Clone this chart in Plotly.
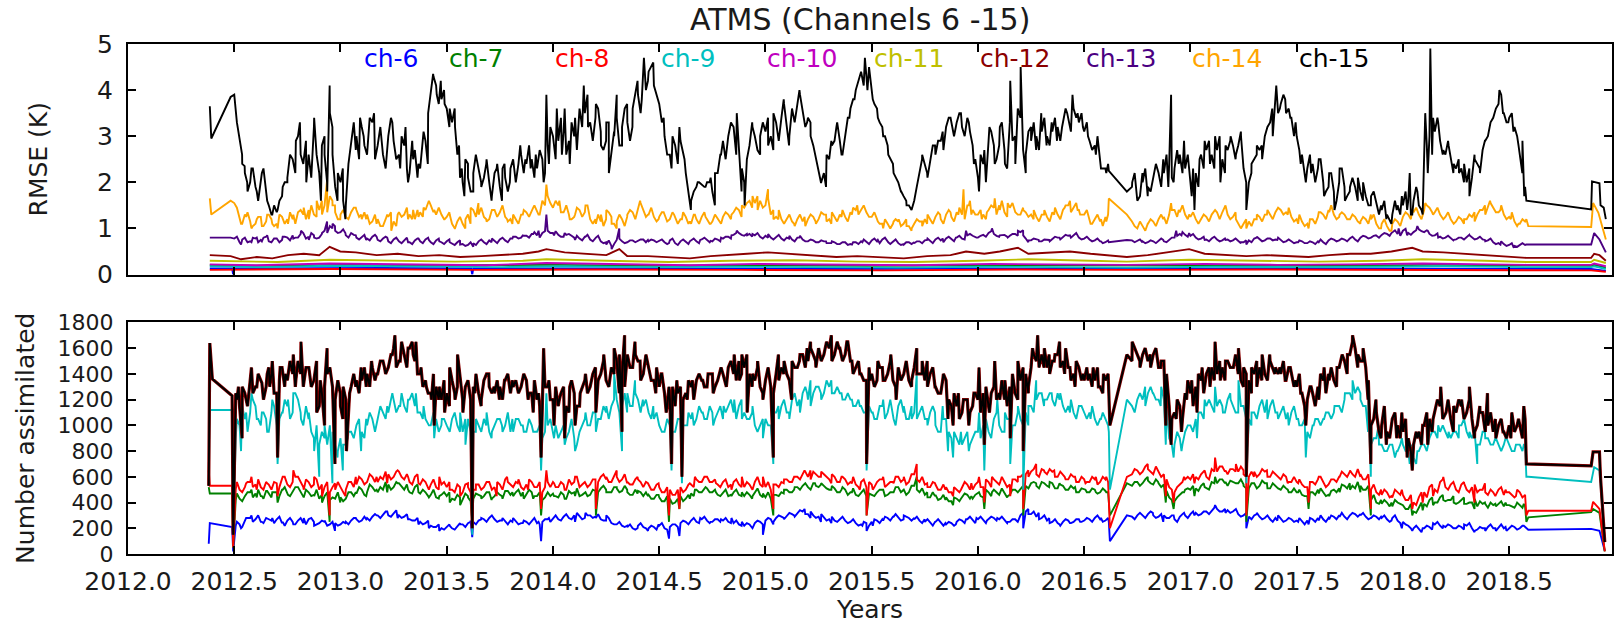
import plotly.graph_objects as go

# ---------------- data ----------------
channels = ["ch-6", "ch-7", "ch-8", "ch-9", "ch-10", "ch-11", "ch-12", "ch-13", "ch-14", "ch-15"]
colors = ["#0000FF", "#008000", "#FF0000", "#00BFBF", "#BF00BF", "#BFBF00", "#8B0000", "#4B0082", "#FFA500", "#000000"]
label_years = [2013.1, 2013.5, 2014.0, 2014.5, 2015.0, 2015.5, 2016.0, 2016.5, 2017.0, 2017.5]
x_ticks = [2012.0, 2012.5, 2013.0, 2013.5, 2014.0, 2014.5, 2015.0, 2015.5, 2016.0, 2016.5, 2017.0, 2017.5, 2018.0, 2018.5]

# Sampling calendar of the dense readings: 13 half-year rows (2012.5 ... 2018.5), 20 samples per row every 0.025 yr;
# the "_b" rows are the readings taken half a step (0.0125 yr) later.
row_starts = [2012.5, 2013.0, 2013.5, 2014.0, 2014.5, 2015.0, 2015.5, 2016.0, 2016.5, 2017.0, 2017.5, 2018.0, 2018.5]
row_step = 0.025
N = None

# ---- RMSE (K), top panel: individual readings (year, value) ----
rmse_ch15 = [(2012.385,3.65),(2012.392,2.95),(2012.483,3.85),(2012.5,3.9),(2012.537,2.6),(2012.549,2.35),(2012.561,2.0),(2012.581,2.3),(2012.606,1.8),(2012.63,2.2),(2012.655,1.6),(2012.679,1.3),(2012.704,1.4),(2012.728,1.9),(2012.75,2.0),(2012.79,2.9),(2012.809,3.3),(2012.839,2.0),(2012.876,3.4),(2012.908,1.6),(2012.925,3.0),(2012.937,2.0),(2012.949,4.1),(2012.962,3.2),(2012.986,1.6),(2013.011,2.3),(2013.023,1.2),(2013.043,2.6),(2013.06,3.2),(2013.072,2.7),(2013.092,3.4),(2013.109,3.0),(2013.158,3.5),(2013.207,2.4),(2013.244,3.3),(2013.281,2.3),(2013.306,3.2),(2013.318,2.0),(2013.342,2.5),(2013.367,2.4),(2013.391,3.1),(2013.411,2.4),(2013.421,3.8),(2013.436,4.35),(2013.453,3.9),(2013.472,4.2),(2013.49,3.7),(2013.514,3.6),(2013.539,3.2),(2013.558,2.8),(2013.571,2.3),(2013.583,1.7),(2013.6,2.4),(2013.625,1.8),(2013.637,2.6),(2013.662,2.0),(2013.686,2.4),(2013.711,1.6),(2013.735,2.3),(2013.76,1.6),(2013.772,2.4),(2013.797,2.0),(2013.821,2.2),(2013.846,2.8),(2013.87,2.5),(2013.895,2.3),(2013.919,2.6),(2013.956,2.0),(2013.969,3.9),(2013.981,2.4),(2014.018,3.6),(2014.042,2.6),(2014.055,3.6),(2014.079,2.4),(2014.104,3.4),(2014.145,4.1),(2014.165,3.2),(2014.202,3.7),(2014.226,2.8),(2014.251,3.3),(2014.263,2.2),(2014.288,3.0),(2014.3,3.9),(2014.325,2.8),(2014.349,3.7),(2014.374,3.2),(2014.398,4.2),(2014.418,3.8),(2014.428,4.7),(2014.447,4.2),(2014.472,4.6),(2014.497,3.8),(2014.521,3.4),(2014.558,2.3),(2014.595,3.2),(2014.619,2.5),(2014.649,1.4),(2014.681,2.0),(2014.718,1.9),(2014.742,2.1),(2014.762,1.5),(2014.791,2.6),(2014.865,3.5),(2014.889,2.3),(2014.902,1.5),(2014.939,3.2),(2014.975,2.6),(2015.012,3.4),(2015.037,2.7),(2015.086,3.8),(2015.111,2.8),(2015.16,4.0),(2015.196,3.3),
 (2015.212,3.3),(2015.249,2.3),(2015.261,2.0),(2015.285,1.9),(2015.31,2.9),(2015.334,3.2),(2015.358,2.6),(2015.395,3.4),(2015.419,3.8),(2015.444,4.3),(2015.468,4.7),(2015.48,4.0),(2015.505,3.8),(2015.529,3.4),(2015.554,3.0),(2015.578,2.6),(2015.603,2.2),(2015.639,1.8),(2015.664,1.5),(2015.688,1.4),(2015.712,1.9),(2015.737,2.5),(2015.761,2.2),(2015.798,2.8),(2015.834,3.1),(2015.871,3.4),(2015.896,3.2),(2015.92,3.5),(2015.957,3.3),(2015.981,2.4),(2016.005,1.8),(2016.03,2.7),(2016.054,3.2),(2016.079,2.4),(2016.103,3.2),(2016.127,2.4),(2016.152,4.2),(2016.176,2.4),(2016.201,4.5),(2016.225,2.2),(2016.25,3.2),(2016.274,2.7),(2016.298,3.5),(2016.323,2.8),(2016.347,3.3),(2016.372,2.9),(2016.396,3.2),(2016.42,3.5),(2016.445,3.9),(2016.469,3.5),(2016.494,3.2),(2016.518,3.0),(2016.555,2.6),(2016.579,2.3),(2016.604,2.2),(2016.616,2.25),(2016.701,1.8),(2016.726,2.0),(2016.75,1.6),(2016.774,2.2),(2016.799,1.7),(2016.835,2.3),(2016.872,2.5),(2016.896,1.9),(2016.909,3.9),(2016.921,2.0),(2016.945,2.4),(2016.97,2.9),(2017.006,1.7),(2017.019,1.4),(2017.043,2.5),(2017.067,2.9),(2017.092,2.4),(2017.116,3.0),(2017.141,2.0),(2017.165,2.8),(2017.189,3.0),(2017.214,2.6),(2017.238,3.0),(2017.263,1.4),(2017.287,2.2),(2017.312,2.6),(2017.336,2.8),(2017.36,3.2),(2017.385,3.6),(2017.404,4.1),(2017.421,3.6),(2017.446,3.8),(2017.47,3.4),(2017.495,3.3),(2017.519,2.4),(2017.543,2.0),(2017.568,2.2),(2017.604,2.5),(2017.629,1.7),(2017.653,2.2),(2017.678,1.4),(2017.702,2.3),(2017.727,1.6),(2017.751,1.9),(2017.788,2.1),(2017.812,1.6),(2017.849,1.5),(2017.873,1.6),(2017.897,1.5),(2017.922,1.2),(2017.946,1.1),(2017.971,1.4),(2017.995,1.7),(2018.02,1.4),(2018.032,2.2),(2018.044,1.3),(2018.068,1.8),(2018.093,1.3),(2018.105,3.5),(2018.117,2.2),(2018.129,4.9),(2018.142,3.4),(2018.166,3.3),(2018.19,2.7),(2018.215,2.8),(2018.239,2.4),(2018.264,2.2),(2018.288,2.4),(2018.313,1.7),(2018.337,2.6),(2018.362,2.3),(2018.386,2.9),(2018.41,3.2),(2018.435,3.6),(2018.454,4.0),(2018.471,3.5),(2018.496,3.3),(2018.52,3.1),(2018.544,2.8),(2018.562,2.2),(2018.571,1.7),(2018.581,1.6),(2018.886,1.41),(2018.89,2.02),(2018.925,1.98),(2018.93,1.5),(2018.945,1.45),(2018.955,1.2)]
rmse_ch15_rows = [
 [N,2.9,2.2,2.0,1.9,2.1,1.7,1.3,1.35,1.7,2.1,2.5,3.0,2.4,2.6,3.2,2.2,2.6,3.5,1.9],
 [2.0,1.5,2.8,3.0,3.2,2.6,3.3,2.8,2.6,3.0,2.9,2.6,2.8,2.2,2.7,2.3,2.9,4.0,4.1,3.8],
 [3.6,3.3,2.6,2.0,2.1,2.2,2.3,2.1,2.0,2.2,1.9,2.1,2.3,2.0,2.6,2.4,2.5,2.3,2.5,2.8],
 [3.0,2.9,3.1,2.9,3.0,3.6,3.5,3.3,3.4,3.1,2.9,2.6,3.4,3.2,3.3,3.6,3.9,4.3,4.4,4.1],
 [3.7,3.0,2.6,2.8,2.9,2.2,1.6,1.9,1.95,2.0,1.8,2.2,2.9,3.0,3.2,2.8,2.0,2.8,3.0,3.0],
 [3.1,3.0,3.3,3.4,3.2,3.6,3.7,3.5,3.4,2.8,2.2,2.2,2.5,2.9,2.9,3.0,3.6,4.0,4.4,4.3],
 [3.9,3.6,3.2,2.8,2.4,2.0,1.7,1.5,1.6,2.2,2.4,2.5,2.6,2.9,3.2,3.3,3.3,3.2,3.4,2.8],
 [2.1,2.4,2.9,2.8,2.8,2.7,3.3,3.0,3.4,2.6,2.9,3.0,3.1,3.0,3.1,3.2,3.3,3.4,3.6,3.3],
 [3.1,2.9,2.8,2.5,2.3,N,N,N,N,1.9,N,2.0,1.9,2.1,2.2,2.2,2.4,2.3,2.6,2.3],
 [2.0,2.2,2.6,2.7,2.6,2.7,2.5,2.7,2.8,2.8,2.3,2.0,2.5,2.7,3.0,3.3,3.8,3.7,3.5,3.4],
 [3.0,2.6,2.3,2.4,2.3,2.0,1.9,1.8,2.0,1.9,1.8,1.9,1.8,1.7,1.7,1.5,1.4,1.3,1.3,1.5],
 [1.5,1.6,1.6,1.5,2.4,3.0,3.1,2.9,2.6,2.5,2.3,2.3,2.0,2.1,2.4,2.7,3.0,3.4,3.7,3.5],
 [3.4,3.2,2.6,1.9,N,N,N,N,N,N,N,N,N,N,N,N,N,N,N,N]]
rmse_ch15_rows_b = [
 [3.3,2.4,1.8,2.3,1.6,2.3,1.5,1.5,1.6,2.0,2.6,2.2,2.6,2.9,2.1,2.6,2.8,1.8,2.6,2.2],
 [1.6,2.4,3.3,2.5,2.8,3.4,2.5,3.2,2.3,3.4,2.5,3.0,2.3,2.9,2.1,3.0,3.5,4.3,3.7,4.0],
 [3.2,3.6,2.1,2.5,1.8,2.6,1.9,2.5,1.7,2.4,2.3,1.8,2.5,2.4,2.2,2.8,2.1,2.7,2.2,3.2],
 [2.5,3.4,2.6,3.3,2.7,3.2,3.9,2.9,3.6,2.7,3.3,3.1,2.8,3.6,2.9,3.9,3.5,4.0,4.5,3.9],
 [3.3,2.6,3.0,2.4,2.6,1.8,1.8,2.0,1.9,2.0,2.2,2.6,2.5,3.3,2.6,1.8,2.5,3.3,2.7,3.3],
 [2.8,3.5,2.9,3.7,3.0,3.3,3.9,3.2,3.0,2.5,2.0,2.6,2.8,3.3,2.6,3.4,3.8,4.2,4.1,4.5],
 [3.7,3.3,3.0,2.5,2.1,1.8,1.6,1.4,1.9,2.6,2.1,2.8,2.9,2.7,3.4,3.0,3.5,3.0,3.1,2.5],
 [2.6,2.0,3.1,2.5,3.3,2.3,2.9,3.6,2.7,3.1,3.3,2.7,3.4,2.8,3.4,2.9,3.6,3.1,3.4,3.5],
 [3.3,2.7,3.0,2.3,2.4,N,N,N,N,2.2,1.7,2.3,1.8,2.4,1.9,2.6,2.1,2.7,2.2,2.6],
 [2.3,1.9,2.3,2.9,2.3,3.0,2.2,2.9,2.5,3.1,2.0,2.4,2.8,2.5,3.2,3.0,3.5,3.9,3.6,3.0],
 [2.7,2.2,2.6,2.0,2.5,1.8,2.2,1.6,2.3,1.7,2.1,1.6,2.0,1.5,1.8,1.3,1.6,1.2,1.6,1.3],
 [1.8,1.3,1.9,1.4,2.8,2.6,3.4,2.6,2.9,2.2,2.5,2.0,2.3,2.5,2.2,2.9,3.3,3.6,3.9,3.3],
 [3.5,3.0,2.9,N,N,N,N,N,N,N,N,N,N,N,N,N,N,N,N,N]]

rmse_ch14 = [(2012.385,1.65),(2012.392,1.3),(2012.483,1.6),(2012.5,1.55),(2012.532,1.1),(2012.556,1.25),(2012.581,1.0),(2012.606,1.2),(2012.63,1.05),(2012.655,1.3),(2012.679,1.1),(2012.704,1.0),(2012.728,1.2),(2012.753,1.1),(2012.778,1.3),(2012.827,1.45),(2012.851,1.2),(2012.888,1.6),(2012.913,1.3),(2012.937,2.05),(2012.962,1.6),(2012.974,1.5),(2012.999,1.2),(2013.023,1.3),(2013.072,1.45),(2013.097,1.3),(2013.121,1.2),(2013.17,1.1),(2013.22,1.3),(2013.239,0.95),(2013.269,1.3),(2013.318,1.2),(2013.342,1.4),(2013.367,1.25),(2013.391,1.45),(2013.416,1.6),(2013.441,1.4),(2013.49,1.2),(2013.514,1.3),(2013.539,1.0),(2013.588,1.2),(2013.612,1.1),(2013.649,1.55),(2013.686,1.2),(2013.711,1.35),(2013.76,1.5),(2013.784,1.2),(2013.809,1.1),(2013.858,1.3),(2013.907,1.45),(2013.932,1.3),(2013.969,1.95),(2014.005,1.5),(2014.03,1.6),(2014.055,1.4),(2014.079,1.2),(2014.104,1.3),(2014.153,1.5),(2014.202,1.1),(2014.226,1.3),(2014.251,1.4),(2014.276,1.1),(2014.3,1.0),(2014.349,1.25),(2014.41,1.6),(2014.447,1.3),(2014.497,1.2),(2014.521,1.35),(2014.57,1.3),(2014.607,1.2),(2014.644,1.15),(2014.668,1.3),(2014.718,1.25),(2014.742,1.1),(2014.791,1.1),(2014.84,1.3),(2014.889,1.5),(2014.939,1.7),(2014.963,1.4),(2015.012,1.85),(2015.037,1.4),(2015.061,1.2),(2015.135,1.1),(2015.184,1.25),(2015.236,1.15),(2015.285,1.3),(2015.31,1.1),(2015.358,1.25),(2015.407,1.3),(2015.432,1.5),(2015.48,1.3),(2015.529,1.15),(2015.554,1.0),(2015.603,1.15),(2015.627,1.2),(2015.664,1.05),(2015.688,1.0),(2015.737,1.15),(2015.761,1.1),(2015.822,1.3),(2015.871,1.35),(2015.908,1.3),(2015.932,1.85),(2015.957,1.5),(2015.969,1.3),(2016.018,1.2),(2016.042,1.35),(2016.079,1.65),(2016.103,1.4),(2016.14,1.55),(2016.176,1.35),(2016.213,1.4),(2016.262,1.2),(2016.311,1.3),(2016.359,1.3),(2016.408,1.45),(2016.433,1.6),(2016.469,1.4),(2016.481,1.3),(2016.53,1.1),(2016.579,1.2),(2016.604,1.15),(2016.616,1.65),(2016.701,1.3),(2016.75,1.0),(2016.799,1.1),(2016.872,1.2),(2016.909,1.55),(2016.945,1.4),(2016.994,1.3),(2017.043,1.15),(2017.116,1.4),(2017.165,1.5),(2017.214,1.2),(2017.263,1.0),(2017.312,1.2),(2017.36,1.3),(2017.409,1.45),(2017.458,1.3),(2017.507,1.1),(2017.556,1.0),(2017.604,1.35),(2017.653,1.35),(2017.702,1.3),(2017.751,1.2),(2017.8,1.1),(2017.849,1.3),(2017.897,1.0),(2017.946,0.95),(2017.995,1.2),(2018.044,1.4),(2018.105,1.55),(2018.142,1.3),(2018.19,1.2),(2018.239,1.1),(2018.288,1.2),(2018.337,1.35),(2018.386,1.5),(2018.41,1.6),(2018.459,1.4),(2018.508,1.2),(2018.544,1.1),(2018.581,1.2),(2018.59,1.05),(2018.886,1.03),(2018.895,1.55),(2018.92,1.34),(2018.955,0.76)]
rmse_ch14_rows = [
 [N,1.2,1.3,1.15,1.1,1.25,1.15,1.2,1.1,1.25,1.2,1.2,1.35,1.3,1.4,1.3,1.4,1.5,1.7,1.35],
 [1.3,1.25,1.35,1.4,1.2,1.3,1.15,1.2,1.05,1.25,1.15,1.35,1.3,1.3,1.2,1.35,1.4,1.5,1.3,1.3],
 [1.25,1.1,1.15,1.1,1.3,1.4,1.3,1.25,1.2,1.4,1.35,1.25,1.2,1.2,1.3,1.35,1.4,1.35,1.6,1.7],
 [1.45,1.5,1.35,1.3,1.25,1.4,1.35,1.2,1.2,1.15,1.2,1.25,1.15,1.2,1.3,1.35,1.45,1.4,1.3,1.25],
 [1.25,1.3,1.2,1.25,1.2,1.25,1.1,1.2,1.25,1.2,1.15,1.2,1.25,1.3,1.35,1.4,1.45,1.6,1.55,1.6],
 [1.5,1.3,1.25,1.2,1.2,1.15,1.2,1.15,1.2,1.25,1.2,1.3,1.2,1.25,1.3,1.25,1.35,1.4,1.4,1.35],
 [1.25,1.2,1.1,1.1,1.1,1.15,1.1,1.05,1.1,1.15,1.2,1.2,1.25,1.2,1.3,1.25,1.35,1.3,1.5,1.4],
 [1.3,1.3,1.4,1.45,1.5,1.35,1.45,1.4,1.3,1.35,1.3,1.25,1.3,1.25,1.35,1.3,1.4,1.5,1.45,1.4],
 [1.3,1.2,1.2,1.15,1.25,N,N,N,N,1.15,N,1.05,1.1,1.15,1.2,1.25,1.3,1.4,1.35,1.3],
 [1.25,1.2,1.2,1.25,1.3,1.35,1.35,1.3,1.25,1.1,1.1,1.15,1.2,1.25,1.3,1.3,1.35,1.4,1.35,1.25],
 [1.2,1.15,1.1,1.2,1.25,1.3,1.4,1.3,1.25,1.3,1.2,1.25,1.15,1.2,1.2,1.1,1.1,1.05,1.1,1.15],
 [1.25,1.3,1.35,1.3,1.4,1.45,1.35,1.3,1.25,1.2,1.15,1.2,1.2,1.25,1.3,1.4,1.45,1.45,1.35,1.3],
 [1.25,1.15,1.1,1.15,N,N,N,N,N,N,N,N,N,N,N,N,N,N,N,N]]
rmse_ch14_rows_b = [
 [1.45,1.1,1.35,1.05,1.25,1.05,1.3,1.05,1.3,1.1,1.35,1.1,1.4,1.2,1.5,1.25,1.6,1.35,1.5,1.2],
 [1.4,1.2,1.45,1.25,1.35,1.1,1.3,1.05,1.2,1.35,1.05,1.25,1.45,1.2,1.4,1.25,1.55,1.35,1.45,1.2],
 [1.35,1.0,1.25,1.0,1.45,1.25,1.45,1.15,1.4,1.25,1.5,1.15,1.3,1.1,1.4,1.25,1.5,1.3,1.5,1.55],
 [1.6,1.35,1.5,1.2,1.45,1.25,1.5,1.1,1.3,1.05,1.35,1.1,1.3,1.05,1.4,1.2,1.55,1.25,1.45,1.15],
 [1.35,1.15,1.35,1.1,1.35,1.1,1.3,1.1,1.35,1.1,1.3,1.1,1.35,1.2,1.45,1.25,1.55,1.45,1.7,1.45],
 [1.65,1.2,1.4,1.1,1.3,1.05,1.3,1.05,1.3,1.1,1.35,1.15,1.35,1.15,1.4,1.15,1.45,1.3,1.5,1.25],
 [1.35,1.1,1.2,1.0,1.2,1.05,1.2,0.95,1.2,1.05,1.3,1.1,1.35,1.1,1.4,1.15,1.45,1.2,1.6,1.3],
 [1.4,1.2,1.5,1.3,1.6,1.25,1.55,1.3,1.45,1.25,1.4,1.15,1.4,1.15,1.45,1.2,1.5,1.35,1.55,1.3],
 [1.4,1.1,1.3,1.05,1.3,N,N,N,N,1.05,1.15,0.95,1.2,1.05,1.3,1.1,1.4,1.25,1.5,1.2],
 [1.35,1.1,1.3,1.15,1.4,1.2,1.45,1.2,1.35,1.0,1.2,1.05,1.3,1.15,1.4,1.2,1.45,1.3,1.45,1.15],
 [1.3,1.05,1.2,1.1,1.35,1.2,1.5,1.2,1.35,1.2,1.3,1.15,1.25,1.1,1.3,1.0,1.2,0.95,1.2,1.05],
 [1.35,1.2,1.45,1.2,1.5,1.35,1.45,1.2,1.35,1.1,1.25,1.1,1.3,1.15,1.4,1.3,1.55,1.35,1.5,1.2],
 [1.35,1.05,1.2,N,N,N,N,N,N,N,N,N,N,N,N,N,N,N,N,N]]

rmse_ch13 = [(2012.385,0.8),(2012.483,0.8),(2012.5,0.78),(2012.532,0.65),(2012.556,0.75),(2012.581,0.7),(2012.606,0.8),(2012.63,0.72),(2012.655,0.85),(2012.704,0.75),(2012.728,0.82),(2012.778,0.78),(2012.814,0.95),(2012.851,0.75),(2012.876,0.8),(2012.913,0.9),(2012.937,1.15),(2012.962,1.0),(2012.974,1.05),(2013.023,0.9),(2013.072,0.85),(2013.121,0.75),(2013.17,0.82),(2013.22,0.8),(2013.269,0.75),(2013.318,0.7),(2013.367,0.78),(2013.416,0.75),(2013.465,0.72),(2013.514,0.7),(2013.563,0.65),(2013.625,0.6),(2013.662,0.75),(2013.711,0.7),(2013.76,0.8),(2013.809,0.78),(2013.858,0.85),(2013.907,0.88),(2013.932,0.95),(2013.969,1.3),(2014.005,0.85),(2014.055,0.9),(2014.104,0.75),(2014.153,0.82),(2014.202,0.8),(2014.251,0.65),(2014.276,0.55),(2014.312,1.0),(2014.349,0.7),(2014.398,0.72),(2014.447,0.75),(2014.497,0.72),(2014.546,0.68),(2014.595,0.7),(2014.644,0.72),(2014.693,0.75),(2014.742,0.73),(2014.791,0.8),(2014.84,0.85),(2014.865,0.95),(2014.914,0.85),(2014.939,0.88),(2015.012,0.8),(2015.061,0.85),(2015.111,0.78),(2015.16,0.8),(2015.233,0.7),(2015.285,0.72),(2015.31,0.68),(2015.407,0.65),(2015.456,0.7),(2015.529,0.75),(2015.578,0.7),(2015.651,0.65),(2015.7,0.7),(2015.761,0.75),(2015.834,0.78),(2015.896,0.8),(2015.944,0.95),(2015.993,0.8),(2016.03,0.85),(2016.066,1.0),(2016.103,0.85),(2016.14,0.8),(2016.188,0.95),(2016.213,0.85),(2016.237,0.7),(2016.286,0.75),(2016.335,0.75),(2016.384,0.8),(2016.433,0.85),(2016.481,0.78),(2016.53,0.75),(2016.579,0.72),(2016.616,0.7),(2016.701,0.75),(2016.774,0.7),(2016.872,0.75),(2016.933,0.95),(2016.958,0.85),(2016.994,0.9),(2017.067,0.75),(2017.165,0.75),(2017.238,0.7),(2017.263,0.65),(2017.312,0.8),(2017.409,0.75),(2017.507,0.7),(2017.604,0.7),(2017.702,0.75),(2017.8,0.8),(2017.873,0.85),(2017.946,0.9),(2017.98,1.0),(2018.02,0.85),(2018.068,1.05),(2018.117,0.95),(2018.166,0.8),(2018.239,0.75),(2018.313,0.85),(2018.386,0.75),(2018.459,0.65),(2018.52,0.6),(2018.581,0.65),(2018.886,0.65),(2018.9,0.9),(2018.925,0.76),(2018.955,0.48)]
rmse_ch13_rows = [
 [N,0.7,0.8,0.72,0.78,0.75,0.82,0.7,0.78,0.75,0.8,0.85,0.8,0.9,0.82,0.85,0.8,0.95,1.05,0.95],
 [0.92,0.85,0.9,0.8,0.82,0.78,0.82,0.75,0.78,0.72,0.76,0.72,0.75,0.7,0.74,0.72,0.76,0.7,0.74,0.7],
 [0.72,0.68,0.7,0.66,0.64,0.68,0.72,0.7,0.74,0.72,0.76,0.74,0.78,0.82,0.8,0.84,0.88,0.85,0.9,0.95],
 [0.9,0.86,0.82,0.88,0.8,0.78,0.82,0.76,0.8,0.72,0.7,0.62,0.75,0.72,0.7,0.74,0.72,0.76,0.72,0.74],
 [0.72,0.7,0.74,0.68,0.72,0.7,0.74,0.72,0.76,0.74,0.72,0.76,0.78,0.82,0.86,0.9,0.84,0.88,0.85,0.82],
 [0.84,0.8,0.82,0.78,0.8,0.76,0.8,0.76,0.72,0.74,0.7,0.72,0.68,0.7,0.66,0.7,0.66,0.7,0.72,0.7],
 [0.74,0.72,0.76,0.7,0.72,0.68,0.66,0.7,0.68,0.72,0.74,0.72,0.76,0.74,0.78,0.76,0.8,0.78,0.85,0.84],
 [0.8,0.86,0.9,0.88,0.82,0.86,0.84,0.88,0.92,0.78,0.74,0.76,0.72,0.76,0.78,0.8,0.82,0.84,0.86,0.8],
 [0.78,0.76,0.74,0.72,0.7,N,N,N,N,0.74,N,0.72,0.7,0.72,0.74,0.72,0.76,0.8,0.88,0.86],
 [0.84,0.8,0.78,0.76,0.78,0.76,0.74,0.76,0.74,0.72,0.7,0.74,0.78,0.76,0.74,0.78,0.76,0.74,0.72,0.72],
 [0.7,0.72,0.68,0.7,0.72,0.7,0.74,0.76,0.74,0.76,0.78,0.76,0.8,0.82,0.8,0.84,0.86,0.88,0.92,0.88],
 [0.95,0.9,0.92,0.98,0.92,0.88,0.85,0.82,0.8,0.78,0.76,0.8,0.82,0.8,0.78,0.76,0.74,0.7,0.68,0.66],
 [0.64,0.62,0.65,0.64,N,N,N,N,N,N,N,N,N,N,N,N,N,N,N,N]]
rmse_ch13_rows_b = [
 [0.82,0.76,0.7,0.8,0.7,0.8,0.72,0.78,0.7,0.82,0.74,0.8,0.88,0.78,0.9,0.78,0.88,0.9,1.1,0.9],
 [0.98,0.8,0.86,0.76,0.86,0.74,0.86,0.72,0.82,0.68,0.8,0.68,0.8,0.66,0.78,0.68,0.8,0.66,0.78,0.66],
 [0.76,0.64,0.74,0.62,0.7,0.64,0.76,0.66,0.78,0.68,0.8,0.7,0.82,0.78,0.84,0.8,0.92,0.8,0.94,0.9],
 [0.94,0.82,0.86,0.84,0.84,0.74,0.86,0.72,0.84,0.68,0.74,0.66,0.78,0.68,0.74,0.7,0.76,0.7,0.76,0.7],
 [0.76,0.66,0.78,0.64,0.76,0.66,0.78,0.68,0.8,0.7,0.78,0.72,0.82,0.78,0.9,0.86,0.88,0.82,0.9,0.78],
 [0.88,0.76,0.86,0.74,0.84,0.72,0.84,0.72,0.76,0.7,0.74,0.68,0.72,0.66,0.7,0.64,0.7,0.66,0.76,0.66],
 [0.78,0.68,0.8,0.66,0.76,0.64,0.7,0.66,0.72,0.68,0.78,0.68,0.8,0.7,0.82,0.72,0.84,0.76,0.88,0.8],
 [0.84,0.82,0.94,0.84,0.86,0.82,0.88,0.84,0.96,0.74,0.78,0.72,0.76,0.72,0.82,0.76,0.86,0.8,0.9,0.76],
 [0.82,0.72,0.78,0.68,0.74,N,N,N,N,0.7,0.76,0.68,0.74,0.68,0.78,0.7,0.8,0.84,0.92,0.82],
 [0.88,0.76,0.82,0.72,0.82,0.72,0.78,0.72,0.78,0.68,0.74,0.7,0.82,0.72,0.78,0.74,0.8,0.7,0.76,0.68],
 [0.74,0.68,0.72,0.66,0.76,0.66,0.78,0.72,0.78,0.72,0.82,0.72,0.84,0.78,0.84,0.8,0.9,0.84,0.96,0.84],
 [0.99,0.86,0.96,0.94,0.96,0.84,0.89,0.78,0.84,0.74,0.8,0.76,0.86,0.76,0.82,0.72,0.78,0.66,0.72,0.62],
 [0.68,0.6,0.68,N,N,N,N,N,N,N,N,N,N,N,N,N,N,N,N,N]]

rmse_ch12 = [(2012.385,0.42),(2012.483,0.4),(2012.532,0.33),(2012.606,0.38),(2012.679,0.35),(2012.753,0.42),(2012.827,0.45),(2012.9,0.42),(2012.949,0.6),(2012.999,0.5),(2013.072,0.48),(2013.17,0.42),(2013.269,0.45),(2013.367,0.4),(2013.465,0.42),(2013.563,0.38),(2013.662,0.4),(2013.76,0.42),(2013.858,0.45),(2013.932,0.5),(2013.969,0.55),(2014.055,0.48),(2014.153,0.45),(2014.251,0.42),(2014.312,0.55),(2014.349,0.4),(2014.447,0.4),(2014.546,0.38),(2014.644,0.35),(2014.742,0.4),(2014.84,0.42),(2014.914,0.45),(2015.012,0.48),(2015.111,0.45),(2015.233,0.4),(2015.334,0.38),(2015.432,0.4),(2015.554,0.38),(2015.651,0.35),(2015.761,0.4),(2015.871,0.42),(2015.944,0.5),(2016.03,0.45),(2016.103,0.5),(2016.188,0.58),(2016.237,0.45),(2016.335,0.48),(2016.433,0.5),(2016.53,0.45),(2016.616,0.42),(2016.701,0.38),(2016.799,0.42),(2016.933,0.5),(2016.994,0.55),(2017.067,0.45),(2017.165,0.42),(2017.263,0.4),(2017.36,0.42),(2017.458,0.4),(2017.556,0.38),(2017.653,0.42),(2017.751,0.45),(2017.849,0.45),(2017.946,0.5),(2018.044,0.58),(2018.093,0.5),(2018.19,0.48),(2018.288,0.45),(2018.386,0.42),(2018.483,0.38),(2018.581,0.36),(2018.886,0.36),(2018.9,0.45),(2018.925,0.42),(2018.955,0.3)]
rmse_ch11 = [(2012.385,0.3),(2012.532,0.28),(2012.704,0.27),(2012.949,0.32),(2013.244,0.3),(2013.539,0.28),(2013.858,0.3),(2013.969,0.33),(2014.251,0.3),(2014.546,0.27),(2014.84,0.3),(2015.135,0.31),(2015.432,0.28),(2015.7,0.27),(2015.993,0.3),(2016.237,0.33),(2016.53,0.3),(2016.701,0.28),(2016.994,0.32),(2017.312,0.3),(2017.604,0.28),(2017.897,0.3),(2018.093,0.33),(2018.386,0.3),(2018.581,0.27),(2018.886,0.27),(2018.9,0.32),(2018.955,0.25)]
rmse_ch10 = [(2012.385,0.22),(2012.606,0.2),(2012.949,0.24),(2013.318,0.22),(2013.686,0.2),(2013.969,0.25),(2014.3,0.22),(2014.644,0.2),(2014.963,0.23),(2015.334,0.21),(2015.7,0.2),(2016.066,0.23),(2016.396,0.22),(2016.701,0.21),(2017.067,0.23),(2017.409,0.21),(2017.751,0.22),(2018.093,0.24),(2018.41,0.22),(2018.581,0.21),(2018.886,0.21),(2018.9,0.24),(2018.955,0.18)]
rmse_ch9 = [(2012.385,0.18),(2012.655,0.16),(2012.949,0.19),(2013.367,0.17),(2013.76,0.16),(2014.055,0.18),(2014.447,0.16),(2014.84,0.17),(2015.233,0.16),(2015.627,0.15),(2016.018,0.17),(2016.433,0.16),(2016.701,0.15),(2017.116,0.17),(2017.507,0.16),(2017.897,0.17),(2018.19,0.18),(2018.581,0.16),(2018.886,0.16),(2018.9,0.18),(2018.955,0.12)]
rmse_ch8 = [(2012.385,0.1),(2012.949,0.12),(2013.637,0.1),(2014.251,0.11),(2014.889,0.1),(2015.554,0.09),(2016.188,0.11),(2016.701,0.1),(2017.36,0.11),(2017.995,0.1),(2018.581,0.09),(2018.886,0.09),(2018.955,0.06)]
rmse_ch7 = [(2012.385,0.2),(2012.728,0.19),(2013.022,0.21),(2013.539,0.2),(2014.005,0.21),(2014.497,0.19),(2014.963,0.2),(2015.48,0.19),(2015.993,0.2),(2016.506,0.2),(2016.701,0.19),(2017.214,0.2),(2017.702,0.19),(2018.142,0.21),(2018.581,0.19),(2018.886,0.19),(2018.9,0.21),(2018.955,0.15)]
rmse_ch6 = [(2012.385,0.13),(2012.49,0.13),(2012.495,0.0),(2012.5,0.13),(2013.2,0.14),(2013.615,0.13),(2013.62,0.0),(2013.625,0.13),(2014.5,0.13),(2015.3,0.12),(2016.0,0.13),(2016.701,0.12),(2017.4,0.13),(2018.1,0.12),(2018.581,0.12),(2018.886,0.12),(2018.955,0.08)]

# ---- Number assimilated, bottom panel ----
num_ch15 = [(2012.38,530),(2012.385,1640),(2012.397,1360),(2012.49,1230),(2012.495,150),(2012.507,1250),(2012.52,1300),(2012.537,900),(2012.556,1200),(2012.581,1450),(2012.606,1300),(2012.63,1330),(2012.655,1400),(2012.667,1300),(2012.679,1500),(2012.704,750),(2012.716,1450),(2012.741,1400),(2012.778,1550),(2012.79,1350),(2012.814,1650),(2012.851,1450),(2012.888,1100),(2012.905,1350),(2012.925,1000),(2012.937,1600),(2012.954,1400),(2012.974,700),(2012.999,1250),(2013.011,1050),(2013.028,800),(2013.043,1250),(2013.072,1300),(2013.097,1450),(2013.121,1300),(2013.146,1500),(2013.17,1400),(2013.207,1450),(2013.244,1550),(2013.256,1700),(2013.281,1500),(2013.318,1600),(2013.342,1550),(2013.355,1650),(2013.379,1450),(2013.404,1300),(2013.428,1200),(2013.441,1000),(2013.465,1300),(2013.49,1100),(2013.514,1450),(2013.539,1200),(2013.551,1550),(2013.576,1100),(2013.6,1350),(2013.62,200),(2013.632,1250),(2013.662,1150),(2013.698,1400),(2013.723,1300),(2013.748,1200),(2013.772,1350),(2013.797,1300),(2013.809,1350),(2013.858,1350),(2013.883,1200),(2013.907,1100),(2013.932,1250),(2013.944,750),(2013.956,1600),(2013.981,1350),(2014.005,1000),(2014.03,1200),(2014.055,900),(2014.079,1300),(2014.104,1000),(2014.128,1250),(2014.153,1400),(2014.202,1100),(2014.239,1550),(2014.263,1300),(2014.288,1600),(2014.312,1250),(2014.325,950),(2014.337,1700),(2014.361,1450),(2014.386,1650),(2014.41,1500),(2014.435,1550),(2014.46,1350),(2014.484,1250),(2014.509,1400),(2014.533,1100),(2014.546,1300),(2014.558,700),(2014.583,1350),(2014.607,600),(2014.632,1200),(2014.656,1350),(2014.705,1350),(2014.73,1400),(2014.754,1250),(2014.791,1450),(2014.816,1300),(2014.853,1550),(2014.877,1350),(2014.889,1550),(2014.914,1100),(2014.939,1400),(2014.963,1500),(2014.988,1200),(2015.037,750),(2015.061,1550),(2015.086,1400),(2015.123,1200),(2015.16,1500),(2015.196,1600),(2015.212,1650),(2015.236,1500),(2015.273,1550),(2015.31,1700),(2015.346,1600),(2015.383,1650),(2015.407,1500),(2015.444,1400),(2015.476,700),(2015.493,1350),(2015.529,1500),(2015.554,1350),(2015.59,1550),(2015.615,1200),(2015.651,1400),(2015.688,1350),(2015.712,1600),(2015.737,1400),(2015.761,1500),(2015.798,1300),(2015.834,1350),(2015.859,1050),(2015.883,1000),(2015.908,1250),(2015.932,1200),(2015.957,1000),(2015.981,1250),(2016.005,1450),(2016.03,850),(2016.054,1100),(2016.079,1500),(2016.103,1200),(2016.127,1350),(2016.152,900),(2016.188,1500),(2016.213,800),(2016.237,1250),(2016.257,1600),(2016.281,1700),(2016.311,1450),(2016.335,1550),(2016.359,1500),(2016.384,1650),(2016.408,1400),(2016.433,1450),(2016.457,1300),(2016.494,1400),(2016.518,1350),(2016.542,1450),(2016.567,1300),(2016.591,1400),(2016.616,1250),(2016.621,1000),(2016.701,1550),(2016.726,1650),(2016.762,1500),(2016.787,1600),(2016.811,1550),(2016.835,1600),(2016.86,1450),(2016.884,1000),(2016.909,850),(2016.933,1050),(2016.958,950),(2016.982,1200),(2017.006,1350),(2017.031,1100),(2017.055,1450),(2017.092,1300),(2017.116,1650),(2017.141,1350),(2017.165,1500),(2017.202,1450),(2017.226,1600),(2017.25,1300),(2017.263,600),(2017.287,1250),(2017.312,1500),(2017.336,1350),(2017.373,1550),(2017.397,1400),(2017.421,1450),(2017.446,1350),(2017.47,1450),(2017.495,1350),(2017.519,1250),(2017.543,1000),(2017.568,1300),(2017.604,1200),(2017.629,1450),(2017.653,1350),(2017.69,1450),(2017.714,1550),(2017.739,1550),(2017.763,1700),(2017.788,1550),(2017.812,1500),(2017.836,1200),(2017.849,700),(2017.873,1200),(2017.897,900),(2017.922,850),(2017.946,1000),(2017.971,900),(2017.995,1100),(2018.02,750),(2018.044,650),(2018.068,900),(2018.093,1000),(2018.117,850),(2018.142,1050),(2018.178,1300),(2018.203,1100),(2018.239,1150),(2018.276,1200),(2018.313,1300),(2018.337,900),(2018.362,1150),(2018.398,1250),(2018.435,1050),(2018.471,950),(2018.508,900),(2018.544,1050),(2018.569,1150),(2018.581,700),(2018.886,685),(2018.895,794),(2018.925,794),(2018.93,595),(2018.95,93)]
num_ch15_rows = [
 [N,1150,1250,1350,1300,1350,1300,1400,1250,1450,1350,1400,1500,1300,1450,1350,1150,1300,1450,1200],
 [1150,1200,1300,1350,1350,1400,1450,1400,1500,1450,1600,1500,1550,1600,1500,1400,1350,1250,1300,1200],
 [1250,1350,1300,1200,1350,1300,1250,1350,1300,1250,1300,1350,1250,1350,1300,1350,1250,1200,1150,1300],
 [1200,1150,1300,1100,1250,1150,1350,1300,1450,1400,1350,1450,1500,1400,1550,1450,1500,1400,1450,1350],
 [1300,1250,1200,1150,1300,1250,1300,1350,1350,1300,1400,1350,1400,1450,1400,1500,1450,1400,1350,1300],
 [1350,1300,1400,1450,1400,1500,1450,1550,1500,1550,1600,1550,1600,1550,1600,1550,1500,1450,1400,1350],
 [1400,1350,1450,1400,1350,1450,1400,1350,1450,1400,1350,1400,1300,1250,1350,1150,1150,1100,1200,1150],
 [1200,1250,1150,1300,1250,1200,1300,1250,1350,1400,1450,1500,1550,1450,1500,1550,1500,1450,1400,1450],
 [1350,1400,1350,1300,1350,N,N,N,N,1500,N,1550,1500,1550,1450,1500,1150,1100,1150,1250],
 [1250,1300,1350,1400,1450,1400,1450,1500,1450,1400,1450,1350,1400,1450,1400,1500,1450,1400,1350,1400],
 [1300,1250,1200,1250,1300,1350,1400,1350,1450,1500,1550,1600,1500,1450,1000,1100,1000,950,1050,1000],
 [950,900,850,950,1000,1050,1100,1150,1100,1050,1100,1150,1100,1050,1000,1100,1000,950,1000,950],
 [1000,950,1000,1050,N,N,N,N,N,N,N,N,N,N,N,N,N,N,N,N]]
num_ch15_rows_b = [
 [1200,1300,1150,1250,1400,1200,1450,1250,1350,1300,1500,1300,1400,1450,1300,1500,1250,1400,1300,1350],
 [1300,1100,1400,1250,1450,1300,1350,1500,1400,1550,1450,1650,1450,1650,1400,1300,1250,1400,1200,1350],
 [1150,1250,1400,1300,1200,1400,1200,1400,1250,1350,1200,1400,1300,1250,1400,1250,1350,1150,1300,1200],
 [1300,1250,1150,1350,1150,1300,1250,1400,1350,1500,1300,1400,1550,1300,1450,1550,1350,1550,1350,1450],
 [1400,1150,1300,1250,1200,1350,1200,1400,1300,1400,1300,1450,1300,1500,1350,1400,1550,1300,1450,1250],
 [1450,1250,1350,1500,1350,1450,1550,1450,1600,1450,1500,1650,1500,1650,1500,1650,1400,1500,1350,1450],
 [1300,1450,1350,1500,1300,1350,1500,1300,1400,1500,1300,1450,1250,1400,1200,1250,1050,1200,1100,1250],
 [1100,1300,1250,1200,1350,1150,1400,1200,1450,1300,1550,1450,1600,1400,1550,1450,1600,1350,1500,1350],
 [1450,1300,1450,1250,1400,N,N,N,N,1600,1450,1600,1450,1600,1500,1400,1050,1200,1050,1350],
 [1150,1400,1250,1450,1350,1500,1350,1450,1550,1350,1400,1450,1300,1550,1350,1450,1400,1500,1450,1300],
 [1400,1150,1300,1150,1400,1250,1450,1300,1550,1400,1650,1450,1600,1350,1050,950,1150,900,1100,900],
 [1050,800,950,850,1100,950,1200,1050,1200,950,1200,1050,1200,950,1100,950,1100,900,1050,900],
 [1100,1000,900,N,N,N,N,N,N,N,N,N,N,N,N,N,N,N,N,N]]

num_ch9 = [(2012.38,530),(2012.385,1120),(2012.49,1120),(2012.495,150),(2012.507,900),(2012.532,800),(2012.556,1100),(2012.581,1250),(2012.606,1050),(2012.63,1100),(2012.655,950),(2012.679,1200),(2012.704,700),(2012.728,1100),(2012.753,1200),(2012.778,1250),(2012.814,1050),(2012.851,1100),(2012.876,800),(2012.9,600),(2012.925,900),(2012.962,550),(2012.986,750),(2013.011,650),(2013.035,900),(2013.072,1000),(2013.097,800),(2013.121,1050),(2013.17,1000),(2013.22,1150),(2013.244,1250),(2013.281,1150),(2013.318,1200),(2013.355,1250),(2013.391,1150),(2013.416,1000),(2013.441,900),(2013.477,1050),(2013.514,950),(2013.563,1100),(2013.588,850),(2013.62,150),(2013.637,950),(2013.686,1000),(2013.711,900),(2013.76,1000),(2013.809,1050),(2013.858,1000),(2013.907,950),(2013.944,650),(2013.969,1250),(2014.005,900),(2014.055,850),(2014.104,800),(2014.153,1100),(2014.202,950),(2014.251,1150),(2014.288,1400),(2014.325,800),(2014.349,1100),(2014.386,1350),(2014.423,1200),(2014.472,1150),(2014.521,950),(2014.558,650),(2014.583,1000),(2014.607,550),(2014.632,1000),(2014.656,1100),(2014.705,1100),(2014.754,1000),(2014.803,1150),(2014.853,1200),(2014.889,1050),(2014.939,1150),(2014.988,900),(2015.037,700),(2015.061,1150),(2015.111,1100),(2015.16,1200),(2015.196,1250),(2015.212,1350),(2015.261,1250),(2015.31,1350),(2015.358,1250),(2015.407,1200),(2015.444,1150),(2015.476,650),(2015.505,1100),(2015.554,1200),(2015.603,1050),(2015.651,1150),(2015.688,1050),(2015.712,1400),(2015.761,1050),(2015.798,1100),(2015.834,1150),(2015.859,800),(2015.883,750),(2015.92,950),(2015.957,800),(2016.005,1100),(2016.03,650),(2016.066,950),(2016.091,1200),(2016.127,1100),(2016.152,700),(2016.188,1150),(2016.213,500),(2016.237,1000),(2016.274,1350),(2016.311,1150),(2016.347,1250),(2016.384,1200),(2016.433,1100),(2016.481,1150),(2016.53,1050),(2016.579,1050),(2016.616,950),(2016.621,500),(2016.701,1200),(2016.75,1200),(2016.787,1300),(2016.823,1250),(2016.86,1150),(2016.884,850),(2016.921,750),(2016.958,800),(2016.994,1000),(2017.031,900),(2017.067,1200),(2017.116,1300),(2017.153,1100),(2017.189,1200),(2017.226,1350),(2017.263,550),(2017.287,1000),(2017.324,1150),(2017.36,1200),(2017.409,1100),(2017.458,1100),(2017.507,1050),(2017.543,750),(2017.58,1000),(2017.629,1050),(2017.678,1150),(2017.727,1250),(2017.763,1350),(2017.8,1250),(2017.836,950),(2017.849,600),(2017.885,1000),(2017.922,800),(2017.971,800),(2017.995,900),(2018.032,700),(2018.068,800),(2018.117,850),(2018.166,1000),(2018.215,950),(2018.264,1000),(2018.313,950),(2018.35,700),(2018.386,950),(2018.435,900),(2018.483,900),(2018.532,850),(2018.569,850),(2018.581,600),(2018.59,600),(2018.886,560),(2018.9,675),(2018.925,650),(2018.95,100)]
num_ch9_rows = [
 [N,1000,1050,1100,1150,1000,1050,1100,1000,1100,1150,1100,1200,1000,1050,900,850,1000,1000,850],
 [900,850,950,1000,950,1000,1050,1050,1100,1100,1200,1150,1150,1200,1150,1100,1050,1000,1050,1000],
 [1000,1050,1000,950,1050,950,1000,1050,950,1000,1050,1000,950,1050,1000,950,1000,950,900,1000],
 [950,900,1000,950,900,950,1050,1000,1100,1050,1100,1150,1200,1150,1250,1150,1200,1150,1100,1050],
 [1000,950,1000,950,1050,1000,1050,1050,1100,1050,1100,1100,1050,1150,1100,1150,1100,1050,1000,1000],
 [1050,1000,1100,1150,1100,1200,1150,1250,1200,1250,1300,1250,1300,1250,1250,1200,1200,1150,1150,1100],
 [1100,1050,1150,1100,1050,1150,1100,1050,1100,1100,1050,1100,1000,950,1050,900,900,850,950,900],
 [950,1000,950,1050,1000,950,1050,1000,1050,1100,1150,1200,1250,1200,1200,1250,1150,1150,1100,1150],
 [1100,1100,1050,1050,1050,N,N,N,N,1150,N,1200,1250,1250,1200,1200,900,850,900,950],
 [1000,1050,1100,1150,1150,1150,1150,1200,1150,1100,1150,1050,1100,1150,1100,1150,1100,1100,1050,1100],
 [1050,1000,950,1000,1050,1050,1100,1100,1150,1200,1250,1250,1200,1150,850,900,850,800,850,800],
 [850,800,750,800,850,900,950,950,950,900,950,1000,950,900,850,950,900,850,850,850],
 [850,800,850,850,N,N,N,N,N,N,N,N,N,N,N,N,N,N,N,N]]
num_ch9_rows_b = [
 [1050,1150,950,1200,1050,1100,950,1150,1050,1200,1050,1250,1100,1150,950,1000,950,850,950,800],
 [850,950,900,1050,900,1100,950,1150,1050,1200,1100,1250,1100,1250,1100,1050,1000,1100,950,1050],
 [950,1100,950,1050,950,1050,950,1100,950,1050,950,1100,950,1050,950,1050,950,1000,950,1050],
 [1000,950,900,1050,850,1000,1000,1100,1050,1150,1050,1200,1100,1250,1150,1250,1100,1200,1050,1100],
 [950,1050,950,1050,1000,1100,1000,1150,1050,1150,1050,1150,1100,1200,1050,1200,1050,1100,950,1050],
 [1000,1100,1050,1200,1050,1250,1100,1300,1150,1300,1200,1350,1250,1300,1200,1250,1150,1200,1100,1150],
 [1050,1150,1050,1200,1000,1200,1050,1150,1050,1150,1000,1150,950,1050,950,950,850,900,850,950],
 [900,1050,900,1100,950,1050,1000,1100,1000,1150,1100,1250,1200,1250,1150,1250,1100,1200,1050,1150],
 [1050,1150,1000,1100,1000,N,N,N,N,1100,1250,1150,1300,1200,1300,1150,850,950,850,1000],
 [950,1100,1050,1200,1100,1200,1100,1250,1100,1150,1050,1100,1050,1200,1050,1200,1050,1150,1000,1150],
 [1000,1050,900,1050,1000,1100,1050,1150,1100,1250,1200,1300,1150,1200,900,850,800,850,750,850],
 [800,850,700,850,800,950,900,1000,900,950,900,1050,900,950,850,900,850,900,800,900],
 [800,850,800,N,N,N,N,N,N,N,N,N,N,N,N,N,N,N,N,N]]

num_ch8 = [(2012.38,650),(2012.385,530),(2012.49,530),(2012.495,50),(2012.507,500),(2012.556,550),(2012.581,600),(2012.606,500),(2012.655,550),(2012.704,450),(2012.728,600),(2012.778,650),(2012.827,500),(2012.876,600),(2012.913,450),(2012.949,300),(2012.974,550),(2013.023,450),(2013.072,600),(2013.121,550),(2013.17,600),(2013.22,550),(2013.269,650),(2013.318,600),(2013.367,550),(2013.416,500),(2013.465,600),(2013.514,500),(2013.563,450),(2013.6,550),(2013.62,250),(2013.637,500),(2013.686,550),(2013.735,450),(2013.784,600),(2013.834,550),(2013.883,500),(2013.944,350),(2013.969,650),(2014.005,550),(2014.055,500),(2014.104,600),(2014.153,550),(2014.202,350),(2014.251,600),(2014.3,650),(2014.349,550),(2014.398,600),(2014.447,550),(2014.497,550),(2014.546,300),(2014.595,350),(2014.644,550),(2014.668,600),(2014.718,600),(2014.767,550),(2014.84,500),(2014.889,600),(2014.939,500),(2014.988,600),(2015.037,350),(2015.086,550),(2015.135,600),(2015.184,650),(2015.212,650),(2015.261,600),(2015.31,550),(2015.358,600),(2015.407,550),(2015.444,500),(2015.476,300),(2015.505,500),(2015.554,600),(2015.603,550),(2015.651,600),(2015.712,700),(2015.761,550),(2015.798,550),(2015.847,500),(2015.883,450),(2015.92,500),(2015.969,550),(2016.005,600),(2016.03,400),(2016.066,600),(2016.103,550),(2016.152,450),(2016.188,600),(2016.213,350),(2016.237,650),(2016.274,700),(2016.311,650),(2016.359,650),(2016.408,600),(2016.457,600),(2016.506,550),(2016.555,600),(2016.604,600),(2016.616,400),(2016.621,200),(2016.701,600),(2016.75,650),(2016.799,700),(2016.848,650),(2016.884,450),(2016.921,400),(2016.97,600),(2017.019,550),(2017.067,650),(2017.116,750),(2017.165,650),(2017.214,700),(2017.25,650),(2017.263,300),(2017.299,600),(2017.36,650),(2017.409,600),(2017.458,550),(2017.507,550),(2017.556,400),(2017.604,600),(2017.653,550),(2017.702,600),(2017.751,650),(2017.8,600),(2017.849,350),(2017.897,500),(2017.946,450),(2017.995,500),(2018.044,350),(2018.093,400),(2018.142,450),(2018.19,600),(2018.239,550),(2018.288,550),(2018.337,400),(2018.386,550),(2018.435,450),(2018.483,500),(2018.532,450),(2018.569,450),(2018.581,300),(2018.59,336),(2018.886,336),(2018.895,406),(2018.925,350),(2018.95,20)]
num_ch8_rows = [
 [N,500,520,560,540,520,560,500,550,580,540,560,600,520,560,540,500,520,480,500],
 [520,500,560,540,580,560,600,560,580,620,600,640,580,560,600,540,560,540,520,540],
 [520,500,540,480,520,500,540,520,560,520,540,580,540,560,520,540,560,520,480,560],
 [560,520,540,580,560,520,560,540,580,600,580,560,600,580,560,540,580,520,540,500],
 [520,480,500,460,520,500,540,580,560,600,560,540,560,520,560,540,520,540,560,540],
 [520,500,540,560,580,560,600,620,600,640,600,620,580,600,560,580,560,540,560,520],
 [540,560,580,540,560,600,580,560,620,560,540,520,540,500,520,480,500,520,540,500],
 [560,520,560,580,540,560,540,580,600,620,640,620,660,620,640,600,620,580,600,560],
 [580,560,580,560,580,N,N,N,N,620,N,640,660,620,640,620,520,480,540,580],
 [580,600,620,600,660,640,680,620,660,640,620,600,640,620,640,600,620,580,600,560],
 [560,540,520,560,580,560,540,580,600,620,640,600,620,580,500,480,460,480,440,480],
 [460,420,400,440,480,520,500,560,520,540,500,540,500,520,480,500,460,480,500,460],
 [480,440,480,460,N,N,N,N,N,N,N,N,N,N,N,N,N,N,N,N]]
num_ch8_rows_b = [
 [560,480,560,520,580,500,540,560,520,600,520,600,560,580,520,580,540,560,520,560],
 [480,560,520,600,540,620,560,600,640,580,640,600,620,540,620,580,520,580,500,560],
 [560,480,520,540,480,540,500,560,500,560,500,560,520,580,500,580,520,560,520,520],
 [520,560,500,540,600,540,520,580,560,620,560,600,560,620,540,580,560,560,500,540],
 [480,520,460,500,480,540,520,560,600,560,580,520,580,540,580,520,560,500,600,520],
 [560,540,520,580,560,600,580,640,580,620,640,600,620,560,600,540,600,520,580,560],
 [520,580,520,560,600,560,540,620,580,600,520,560,500,540,480,520,480,560,500,540],
 [520,580,520,560,600,520,580,560,620,600,660,600,640,660,600,640,580,620,560,600],
 [560,600,540,600,560,N,N,N,N,660,620,680,640,680,600,580,500,520,560,600],
 [620,580,640,580,640,680,640,660,640,680,600,640,600,660,600,640,600,620,560,600],
 [580,520,560,540,600,520,580,560,640,600,620,660,580,620,540,460,500,440,500,460],
 [420,460,380,480,440,540,480,580,500,560,480,560,480,540,500,480,500,460,520,480],
 [460,500,440,N,N,N,N,N,N,N,N,N,N,N,N,N,N,N,N,N]]

num_ch7 = [(2012.38,520),(2012.385,470),(2012.49,470),(2012.495,50),(2012.507,420),(2012.556,470),(2012.581,500),(2012.606,440),(2012.63,450),(2012.655,490),(2012.679,480),(2012.704,400),(2012.728,500),(2012.753,460),(2012.778,500),(2012.827,440),(2012.876,450),(2012.913,400),(2012.949,250),(2012.999,400),(2013.072,480),(2013.121,450),(2013.17,500),(2013.22,480),(2013.269,550),(2013.318,500),(2013.367,480),(2013.416,440),(2013.465,450),(2013.514,400),(2013.563,380),(2013.6,450),(2013.62,250),(2013.662,450),(2013.711,420),(2013.76,450),(2013.809,480),(2013.858,480),(2013.907,430),(2013.944,300),(2014.005,450),(2014.055,430),(2014.104,450),(2014.153,480),(2014.202,300),(2014.251,480),(2014.3,520),(2014.349,500),(2014.398,470),(2014.447,450),(2014.497,460),(2014.546,250),(2014.595,350),(2014.644,430),(2014.668,500),(2014.718,520),(2014.767,480),(2014.84,450),(2014.889,480),(2014.939,450),(2014.988,470),(2015.037,300),(2015.086,470),(2015.135,500),(2015.184,550),(2015.233,550),(2015.261,540),(2015.31,500),(2015.358,500),(2015.407,480),(2015.476,300),(2015.505,450),(2015.554,500),(2015.603,480),(2015.651,500),(2015.712,600),(2015.761,480),(2015.798,450),(2015.847,420),(2015.883,380),(2015.92,430),(2015.969,450),(2016.005,480),(2016.03,350),(2016.066,480),(2016.14,450),(2016.188,480),(2016.213,300),(2016.274,550),(2016.335,520),(2016.384,550),(2016.457,520),(2016.506,500),(2016.555,480),(2016.604,480),(2016.621,300),(2016.701,550),(2016.75,560),(2016.799,600),(2016.848,560),(2016.884,400),(2016.921,350),(2016.97,480),(2017.019,450),(2017.067,520),(2017.116,600),(2017.165,560),(2017.214,550),(2017.25,540),(2017.263,250),(2017.312,520),(2017.36,550),(2017.409,520),(2017.458,500),(2017.507,480),(2017.556,350),(2017.604,470),(2017.653,450),(2017.702,480),(2017.751,500),(2017.8,480),(2017.849,300),(2017.897,420),(2017.946,400),(2017.995,380),(2018.044,300),(2018.093,340),(2018.142,380),(2018.19,420),(2018.239,400),(2018.288,390),(2018.337,350),(2018.386,400),(2018.435,390),(2018.483,400),(2018.532,380),(2018.569,390),(2018.581,250),(2018.59,285),(2018.886,325),(2018.895,350),(2018.925,320),(2018.95,20)]
num_ch7_rows = [
 [N,430,450,480,470,450,490,440,480,500,470,490,520,450,480,460,430,450,420,430],
 [440,430,480,470,500,480,520,480,500,540,520,550,500,480,520,470,480,460,440,460],
 [450,430,460,420,440,430,460,450,480,450,460,490,460,480,450,460,480,450,420,480],
 [470,440,460,490,480,450,480,460,490,510,500,480,510,490,480,460,490,450,460,430],
 [440,410,430,400,450,430,470,500,480,510,480,460,480,450,480,460,450,460,480,460],
 [440,430,460,480,500,480,520,530,520,550,520,530,500,510,480,500,480,460,480,450],
 [460,480,500,460,480,520,500,480,530,480,460,440,460,430,440,410,430,440,460,430],
 [480,440,480,500,460,480,460,500,510,530,550,530,560,530,550,510,530,500,510,480],
 [500,480,500,480,490,N,N,N,N,530,N,550,570,540,550,540,440,410,460,500],
 [500,510,530,510,560,550,580,530,560,550,530,510,550,530,550,510,530,500,510,480],
 [480,460,450,480,500,480,460,500,510,530,550,510,530,500,420,400,390,400,370,400],
 [380,350,330,360,390,420,400,440,410,420,390,420,390,400,370,390,360,380,390,370],
 [380,360,380,370,N,N,N,N,N,N,N,N,N,N,N,N,N,N,N,N]]
num_ch7_rows_b = [
 [470,410,480,440,500,430,470,480,450,520,450,520,480,500,450,500,460,480,440,480],
 [410,480,450,520,460,540,490,520,560,500,560,520,540,470,540,500,450,500,430,480],
 [480,420,440,470,410,470,430,480,430,480,430,490,450,500,430,500,450,480,440,450],
 [450,480,430,470,510,460,450,500,480,530,480,520,480,530,460,500,480,480,430,460],
 [410,450,390,430,410,460,450,480,510,480,500,450,500,460,500,450,480,430,510,440],
 [480,460,450,500,480,520,500,550,500,530,550,510,530,480,520,460,510,450,500,470],
 [450,500,450,480,520,480,460,530,500,510,440,480,420,460,410,440,410,470,430,460],
 [450,500,450,480,510,440,500,480,530,510,560,510,550,560,510,540,500,530,480,510],
 [480,510,470,510,480,N,N,N,N,560,530,580,550,580,520,490,420,440,480,510],
 [530,490,550,500,550,580,550,570,550,580,510,550,510,570,510,550,510,530,480,510],
 [500,450,480,460,510,450,490,480,540,510,530,560,500,530,460,390,420,370,420,390],
 [350,390,320,400,370,440,400,460,420,450,400,440,400,430,410,390,400,370,410,380],
 [370,400,360,N,N,N,N,N,N,N,N,N,N,N,N,N,N,N,N,N]]

num_ch6 = [(2012.38,80),(2012.385,240),(2012.49,210),(2012.495,20),(2012.507,220),(2012.532,200),(2012.556,280),(2012.581,300),(2012.63,250),(2012.679,280),(2012.728,250),(2012.778,230),(2012.827,280),(2012.876,220),(2012.925,250),(2012.974,180),(2013.023,240),(2013.072,280),(2013.121,270),(2013.17,300),(2013.22,330),(2013.269,280),(2013.318,270),(2013.367,230),(2013.416,200),(2013.465,180),(2013.514,220),(2013.563,230),(2013.612,250),(2013.62,130),(2013.662,270),(2013.711,300),(2013.76,260),(2013.809,250),(2013.858,240),(2013.932,250),(2013.944,100),(2013.981,280),(2014.055,300),(2014.104,250),(2014.153,320),(2014.202,280),(2014.251,300),(2014.3,230),(2014.349,220),(2014.398,200),(2014.447,180),(2014.497,230),(2014.546,120),(2014.595,140),(2014.644,250),(2014.693,280),(2014.742,250),(2014.791,270),(2014.84,280),(2014.889,250),(2014.939,200),(2014.988,150),(2015.037,230),(2015.086,280),(2015.135,300),(2015.184,350),(2015.212,280),(2015.261,250),(2015.31,240),(2015.358,280),(2015.407,260),(2015.456,220),(2015.476,180),(2015.505,220),(2015.554,260),(2015.603,290),(2015.651,300),(2015.7,280),(2015.749,270),(2015.798,250),(2015.847,240),(2015.896,230),(2015.944,270),(2015.993,280),(2016.042,260),(2016.091,280),(2016.14,250),(2016.213,200),(2016.237,350),(2016.286,320),(2016.335,280),(2016.384,230),(2016.433,240),(2016.481,250),(2016.53,260),(2016.579,280),(2016.616,250),(2016.621,100),(2016.701,300),(2016.75,300),(2016.823,320),(2016.872,250),(2016.921,300),(2016.97,320),(2017.019,300),(2017.067,330),(2017.116,380),(2017.165,320),(2017.214,350),(2017.25,300),(2017.263,200),(2017.312,310),(2017.36,300),(2017.409,260),(2017.458,270),(2017.507,250),(2017.556,230),(2017.604,260),(2017.653,270),(2017.702,290),(2017.751,300),(2017.8,310),(2017.849,280),(2017.897,290),(2017.946,260),(2017.995,200),(2018.044,180),(2018.093,200),(2018.142,240),(2018.19,220),(2018.239,200),(2018.288,230),(2018.337,170),(2018.386,200),(2018.435,200),(2018.483,210),(2018.532,200),(2018.569,220),(2018.581,200),(2018.59,189),(2018.886,195),(2018.925,180),(2018.95,26)]
num_ch6_rows = [
 [N,230,260,280,270,250,280,260,270,240,260,250,260,240,270,250,240,260,230,240],
 [230,250,260,270,260,280,290,300,310,300,320,300,290,270,260,250,240,220,210,200],
 [210,200,220,230,240,250,260,270,280,270,260,250,260,250,240,250,260,240,250,270],
 [280,270,290,280,300,290,280,300,290,270,260,240,230,220,210,200,220,210,200,210],
 [220,200,210,230,240,250,260,250,270,260,250,270,260,250,240,230,220,230,240,250],
 [260,270,280,290,300,310,320,330,310,300,290,280,270,260,270,260,250,240,230,240],
 [250,260,270,280,290,280,270,280,270,260,250,240,250,240,230,240,250,260,270,260],
 [270,260,270,280,270,260,250,270,300,330,310,290,280,260,250,240,250,260,250,270],
 [260,270,280,270,260,N,N,N,N,290,N,300,310,300,290,300,280,270,290,300],
 [310,320,310,330,340,350,330,340,330,310,300,290,300,290,280,270,280,270,260,270],
 [260,250,260,270,280,270,280,290,300,290,300,310,300,290,280,290,280,270,280,260],
 [250,220,200,190,200,210,230,220,210,220,200,210,220,200,190,200,210,200,210,200],
 [200,210,200,210,N,N,N,N,N,N,N,N,N,N,N,N,N,N,N,N]]
num_ch6_rows_b = [
 [250,210,280,250,300,240,270,240,290,220,280,230,280,230,280,230,260,220,250,220],
 [250,230,280,250,290,260,310,280,330,290,340,280,310,260,280,230,260,210,230,190],
 [230,190,240,210,260,230,280,250,300,250,280,230,280,230,260,230,280,230,270,250],
 [300,260,310,270,320,270,300,280,310,260,280,230,250,210,230,190,240,200,220,190],
 [240,190,230,210,260,230,280,240,290,240,270,250,280,240,260,220,240,210,260,230],
 [280,250,300,270,320,290,340,310,330,280,310,260,290,250,290,240,270,220,250,220],
 [270,240,290,260,310,260,290,260,290,240,270,220,270,220,250,220,270,240,290,240],
 [290,240,290,260,290,240,270,250,320,310,330,270,300,240,270,220,270,240,270,250],
 [280,250,300,250,280,N,N,N,N,270,320,280,330,280,310,280,300,250,310,280],
 [330,300,330,310,360,330,350,320,350,290,320,270,320,270,300,250,300,250,280,250],
 [280,230,280,250,300,250,300,270,320,270,320,290,320,270,300,270,300,250,300,240],
 [230,200,220,170,220,190,250,200,230,200,220,190,240,180,210,180,230,180,230,180],
 [220,190,220,N,N,N,N,N,N,N,N,N,N,N,N,N,N,N,N,N]]


def combine(readings, rows=None, rows_b=None):
    pts = list(readings)
    for grid, offset in ((rows, 0.0), (rows_b, 0.0125)):
        if not grid:
            continue
        for start, row in zip(row_starts, grid):
            for k, v in enumerate(row[:20]):
                if v is not None:
                    pts.append((round(start + offset + row_step * k, 4), v))
    pts.sort(key=lambda p: p[0])
    return [p[0] for p in pts], [p[1] for p in pts]


rmse_series = [
    (rmse_ch6, None, None), (rmse_ch7, None, None), (rmse_ch8, None, None), (rmse_ch9, None, None),
    (rmse_ch10, None, None), (rmse_ch11, None, None), (rmse_ch12, None, None),
    (rmse_ch13, rmse_ch13_rows, rmse_ch13_rows_b), (rmse_ch14, rmse_ch14_rows, rmse_ch14_rows_b),
    (rmse_ch15, rmse_ch15_rows, rmse_ch15_rows_b)]
# channels 10-14 lie beneath ch-15 in the lower panel; ch-12 shows only as a brown rim around it
num_series = [("ch-6", num_ch6, num_ch6_rows, num_ch6_rows_b, 0),
              ("ch-7", num_ch7, num_ch7_rows, num_ch7_rows_b, 1),
              ("ch-8", num_ch8, num_ch8_rows, num_ch8_rows_b, 2),
              ("ch-9", num_ch9, num_ch9_rows, num_ch9_rows_b, 3),
              ("ch-12", num_ch15, num_ch15_rows, num_ch15_rows_b, 6),
              ("ch-15", num_ch15, num_ch15_rows, num_ch15_rows_b, 9)]

FONT = "DejaVu Sans"
TXT = "#1a1a1a"
fig = go.Figure()

for i, (readings, rows, rows_b) in enumerate(rmse_series):
    xs, ys = combine(readings, rows, rows_b)
    fig.add_trace(go.Scatter(x=xs, y=ys, mode="lines", name=channels[i],
                             line=dict(color=colors[i], width=1.9), xaxis="x", yaxis="y",
                             showlegend=False))

for name, readings, rows, rows_b, ci in num_series:
    xs, ys = combine(readings, rows, rows_b)
    w = 3.2 if name == "ch-12" else 1.9
    fig.add_trace(go.Scatter(x=xs, y=ys, mode="lines", name=name,
                             line=dict(color=colors[ci], width=w), xaxis="x2", yaxis="y2",
                             showlegend=False))

axis_common = dict(showline=True, linecolor="black", linewidth=2, mirror="ticks",
                   ticks="inside", ticklen=8, tickwidth=1.5, tickcolor="black",
                   showgrid=False, zeroline=False)
tick_font = dict(family=FONT, size=25, color=TXT)
xr = [2012.0, 2018.984]

fig.update_layout(
    width=1616, height=624,
    margin=dict(l=128, r=2, t=44, b=69),
    paper_bgcolor="white", plot_bgcolor="white",
    xaxis=dict(domain=[0, 1], anchor="y", range=xr, tickvals=x_ticks,
               showticklabels=False, tickfont=tick_font, **axis_common),
    yaxis=dict(domain=[0.548, 1], anchor="x", range=[0, 5], tickvals=[0, 1, 2, 3, 4, 5],
               ticklabelstandoff=8, tickfont=tick_font,
               title=dict(text="RMSE (K)", standoff=42, font=dict(family=FONT, size=25, color=TXT)),
               **axis_common),
    xaxis2=dict(domain=[0, 1], anchor="y2", range=xr, tickvals=x_ticks,
                ticktext=[f"{v:.1f}" for v in x_ticks], ticklabelstandoff=4, tickfont=tick_font,
                title=dict(text="Years", standoff=8, font=dict(family=FONT, size=25, color=TXT)),
                **axis_common),
    yaxis2=dict(domain=[0, 0.454], anchor="x2", range=[0, 1800],
                tickvals=list(range(0, 1801, 200)), ticklabelstandoff=8,
                tickfont=dict(family=FONT, size=22, color=TXT),
                title=dict(text="Number assimilated", standoff=16, font=dict(family=FONT, size=25, color=TXT)),
                **axis_common),
)

ann = []
for i, ch in enumerate(channels):
    ann.append(dict(x=label_years[i], y=4.68, xref="x", yref="y", text=ch, showarrow=False,
                    xanchor="left", yanchor="middle",
                    font=dict(family=FONT, size=25, color=colors[i])))
ann.append(dict(x=0.493, y=1.049, xref="paper", yref="paper", text="ATMS (Channels 6 -15)",
                showarrow=False, xanchor="center", yanchor="middle",
                font=dict(family=FONT, size=30, color=TXT)))
fig.update_layout(annotations=ann)

fig.write_html("out.html")
